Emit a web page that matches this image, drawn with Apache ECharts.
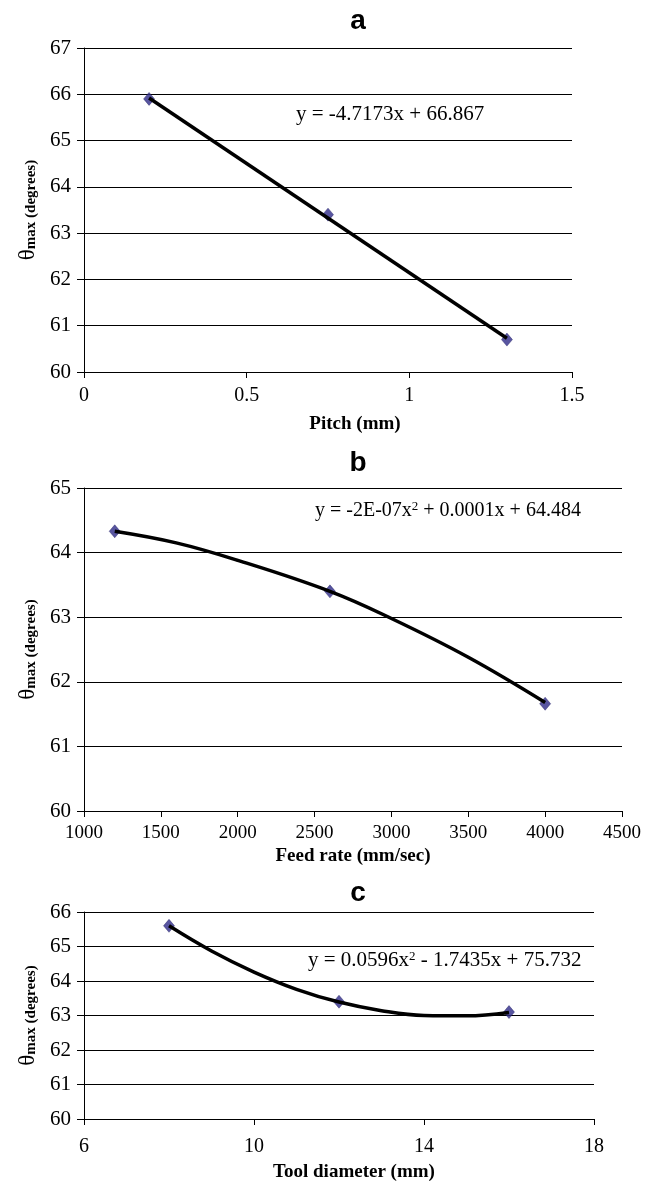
<!DOCTYPE html>
<html>
<head>
<meta charset="utf-8">
<script src="https://cdn.jsdelivr.net/npm/echarts@6/dist/echarts.min.js"></script>
<style>
html,body{margin:0;padding:0;background:#fff;}
#main{width:654px;height:1184px;}
</style>
</head>
<body>
<div id="main"></div>
<script>
// a: pitch
var pitchPts = [[0.2, 65.9], [0.75, 63.4], [1.3, 60.7]];
var pitchTrend = [[0.2, 65.92], [1.3, 60.73]];
// b: feed rate
var feedPts = [[1200, 64.33], [2600, 63.4], [4000, 61.66]];
var feedTrend = [[1200, 64.33], [1600, 64.15], [2000, 63.88], [2600, 63.4], [3000, 62.98], [3500, 62.38], [4000, 61.68]];
// c: tool diameter
var toolPts = [[8, 65.6], [12, 63.4], [16, 63.1]];
var toolTrend = [[8, 65.6], [9, 64.87], [10, 64.26], [11, 63.76], [12, 63.39], [13, 63.14], [14, 63.0], [15, 62.99], [16, 63.09]];

var titles = ['a', 'b', 'c'];
var xNames = ['Pitch (mm)', 'Feed rate (mm/sec)', 'Tool diameter (mm)'];
var equations = [
  'y = -4.7173x + 66.867',
  'y = -2E-07x{sup|2} + 0.0001x + 64.484',
  'y = 0.0596x{sup|2} - 1.7435x + 75.732'
];

var serif = 'Liberation Serif';
var markerColor = '#2e2a88';

var myChart = echarts.init(document.getElementById('main'));

function yAxisOf(idx, min, max) {
  return {
    type: 'value', gridIndex: idx, min: min, max: max, interval: 1,
    name: '{t|θ}{s|max}{d| (degrees)}',
    nameLocation: 'middle', nameGap: 44, nameRotate: 90,
    nameTextStyle: {
      rich: {
        t: {fontFamily: serif, fontSize: 23, color: '#000', verticalAlign: 'bottom'},
        s: {fontFamily: serif, fontSize: 15, fontWeight: 'bold', color: '#000', verticalAlign: 'bottom'},
        d: {fontFamily: serif, fontSize: 15, fontWeight: 'bold', color: '#000', verticalAlign: 'bottom'}
      }
    },
    axisLine: {show: true, lineStyle: {color: '#000', width: 1}},
    axisTick: {show: true, length: 7, lineStyle: {color: '#000'}},
    axisLabel: {fontFamily: serif, fontSize: 21, color: '#000', margin: 13},
    splitLine: {show: true, lineStyle: {color: '#000', width: 1}}
  };
}

function xAxisOf(idx, min, max, interval, gap, margin, fs, shift) {
  return {
    type: 'value', gridIndex: idx, min: min, max: max, interval: interval,
    name: xNames[idx], nameLocation: 'middle', nameGap: gap,
    nameTextStyle: {fontFamily: serif, fontSize: 19, fontWeight: 'bold', color: '#000', padding: [0, 0, 0, shift]},
    axisLine: {show: true, onZero: false, lineStyle: {color: '#000', width: 1}},
    axisTick: {show: true, length: 6, lineStyle: {color: '#000'}},
    axisLabel: {
      fontFamily: serif, fontSize: fs, color: '#000', margin: margin,
      formatter: function (v) { return String(v); }
    },
    splitLine: {show: false}
  };
}

function pts(idx, data) {
  return {
    type: 'scatter', xAxisIndex: idx, yAxisIndex: idx, data: data,
    symbol: 'diamond', symbolSize: [11, 13], z: 3,
    itemStyle: {color: markerColor, borderColor: '#1c1860', borderWidth: 0.5}
  };
}

function trend(idx, data) {
  return {
    type: 'line', xAxisIndex: idx, yAxisIndex: idx, data: data,
    smooth: 0.4, showSymbol: false, symbol: 'none', z: 4,
    lineStyle: {color: '#000', width: 3.5}
  };
}

var titleY = [2, 444, 874];
var eqPos = [[296, 104], [315, 500], [308, 950]];
var eqSize = [21, 20, 21];

myChart.setOption({
  backgroundColor: '#fff',
  animation: false,
  title: titles.map(function (t, i) {
    return {
      text: t, left: 353, top: titleY[i], textAlign: 'center',
      textStyle: {fontFamily: 'Liberation Sans', fontWeight: 'bold', fontSize: 28, color: '#000'}
    };
  }),
  grid: [
    {left: 84, top: 48, width: 488, height: 324},
    {left: 84, top: 488, width: 538, height: 323},
    {left: 84, top: 912, width: 510, height: 207}
  ],
  xAxis: [
    xAxisOf(0, 0, 1.5, 0.5, 43, 14, 20, 54),
    xAxisOf(1, 1000, 4500, 500, 36, 13, 19, 0),
    xAxisOf(2, 6, 18, 4, 44, 18, 20, 30)
  ],
  yAxis: [
    yAxisOf(0, 60, 67),
    yAxisOf(1, 60, 65),
    yAxisOf(2, 60, 66)
  ],
  graphic: equations.map(function (e, i) {
    return {
      type: 'text', left: eqPos[i][0], top: eqPos[i][1],
      style: {
        text: e, fontFamily: serif, fontSize: eqSize[i], fill: '#000',
        rich: {sup: {fontFamily: serif, fontSize: 13, fill: '#000', verticalAlign: 'top', padding: [0, 0, 8, 0]}}
      }
    };
  }),
  series: [
    trend(0, pitchTrend), pts(0, pitchPts),
    trend(1, feedTrend), pts(1, feedPts),
    trend(2, toolTrend), pts(2, toolPts)
  ]
});
</script>
</body>
</html>
